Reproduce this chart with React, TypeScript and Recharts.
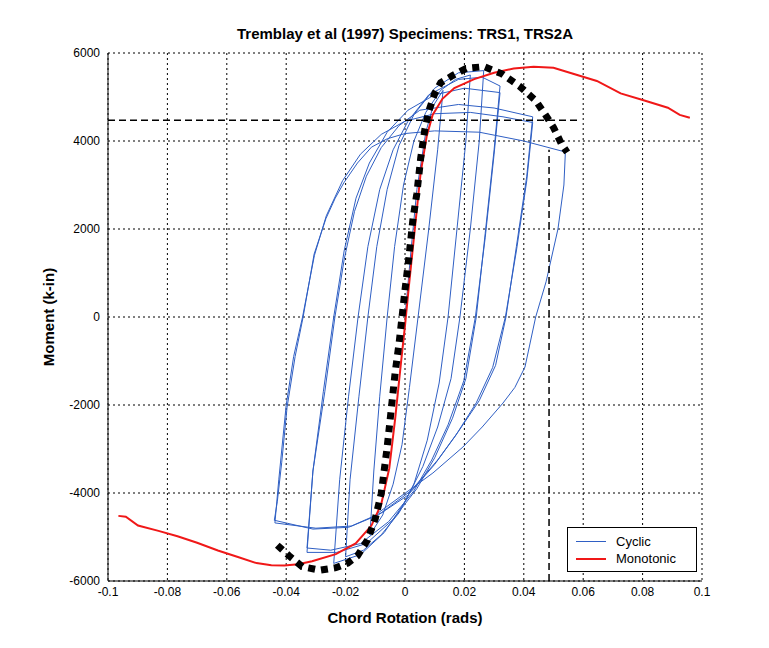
import React from 'react';
import { LineChart, Line, XAxis, YAxis, CartesianGrid } from 'recharts';

type Pt = [number, number];

const xTicks = [-0.1, -0.08, -0.06, -0.04, -0.02, 0, 0.02, 0.04, 0.06, 0.08, 0.1];
const yTicks = [-6000, -4000, -2000, 0, 2000, 4000, 6000];

// monotonic test (red)
const monotonic: Pt[] = [
  [-0.0965, -4520], [-0.094, -4540], [-0.0899, -4740], [-0.083, -4860], [-0.0766, -4984],
  [-0.07, -5130], [-0.063, -5308], [-0.056, -5460], [-0.05, -5593], [-0.045, -5640],
  [-0.0406, -5650], [-0.036, -5620], [-0.0313, -5552], [-0.0233, -5390], [-0.0166, -5146],
  [-0.0113, -4740], [-0.008, -4253], [-0.0053, -3441], [-0.0033, -2305], [-0.0013, -1006],
  [0, -195], [0.0013, 698], [0.0033, 1997], [0.0053, 3295], [0.0073, 4107], [0.0093, 4594],
  [0.0126, 4959], [0.0166, 5203], [0.0233, 5406], [0.03, 5552], [0.0366, 5649], [0.0433, 5690],
  [0.05, 5666], [0.0566, 5528], [0.0646, 5365], [0.0726, 5081], [0.0806, 4919], [0.0885, 4756],
  [0.0925, 4594], [0.0959, 4529],
];

// cyclic backbone (thick black dots)
const backbone: Pt[] = [
  [-0.043, -5187], [-0.039, -5430], [-0.0346, -5674], [-0.0286, -5755], [-0.0233, -5698],
  [-0.0193, -5593], [-0.016, -5430], [-0.0126, -5065], [-0.01, -4578], [-0.008, -4010],
  [-0.006, -2955], [-0.0047, -2143], [-0.0033, -1250], [-0.002, -600], [-0.001, 0],
  [0, 617], [0.0013, 1347], [0.0027, 2240], [0.004, 2808], [0.0053, 3620], [0.0067, 4270],
  [0.008, 4675], [0.01, 5081], [0.012, 5325], [0.016, 5487], [0.0206, 5650], [0.0266, 5690],
  [0.0326, 5528], [0.0386, 5244], [0.044, 4919], [0.0473, 4594], [0.05, 4310], [0.0526, 3945],
  [0.0546, 3742],
];

// cyclic test, in loading order
const cycle1: Pt[] = [
  [0, 0], [0.002, 1500], [0.004, 2900], [0.007, 4200], [0.0095, 4800], [0.0128, 5150],
  [0.011, 3800], [0.008, 2000], [0.0044, 0], [0.0015, -1600], [-0.001, -2900], [-0.004, -3800],
  [-0.0075, -4500], [-0.0118, -4950],
];
const cycle2: Pt[] = [
  [-0.0105, -3500], [-0.0085, -1800], [-0.006, 0], [-0.0035, 1600], [-0.0005, 3000], [0.003, 4000],
  [0.007, 4650], [0.012, 5150], [0.017, 5400], [0.022, 5500],
  [0.0205, 4000], [0.0175, 2000], [0.0145, 0], [0.0115, -1500], [0.0075, -2800], [0.003, -3800],
  [-0.002, -4450], [-0.008, -4950], [-0.014, -5300], [-0.02, -5450],
];
const cycle3: Pt[] = [
  [-0.0185, -3700], [-0.0155, -1800], [-0.0125, 0], [-0.0095, 1600], [-0.006, 2900], [-0.002, 3900],
  [0.003, 4600], [0.01, 5200], [0.018, 5550], [0.0265, 5600],
  [0.025, 4000], [0.022, 2000], [0.0185, 0], [0.0155, -1400], [0.011, -2500], [0.006, -3400],
  [0.0, -4200], [-0.007, -4900], [-0.015, -5400], [-0.024, -5600],
];
const cycle4: Pt[] = [
  [-0.022, -3700], [-0.019, -1800], [-0.0158, 0], [-0.0125, 1600], [-0.0085, 2900], [-0.004, 3800],
  [0.001, 4450], [0.008, 5050], [0.018, 5400], [0.026, 5450], [0.032, 5250],
  [0.03, 3800], [0.027, 1900], [0.024, 0], [0.0205, -1400], [0.016, -2300], [0.01, -3200],
  [0.004, -3900], [-0.004, -4600], [-0.013, -5150], [-0.023, -5350], [-0.033, -5350],
];
const cycle4b: Pt[] = [
  [-0.031, -3500], [-0.0275, -1700], [-0.024, 0], [-0.0205, 1500], [-0.0165, 2700], [-0.012, 3500],
  [-0.006, 4200], [0.001, 4700], [0.01, 5050], [0.02, 5200], [0.032, 5100],
  [0.03, 3700], [0.027, 1800], [0.0237, 0], [0.0198, -1450], [0.0145, -2450], [0.009, -3250],
  [0.003, -3950], [-0.0055, -4650], [-0.015, -5150], [-0.025, -5300], [-0.033, -5250],
];
const cycle5: Pt[] = [
  [-0.031, -3500], [-0.027, -1700], [-0.0236, 0], [-0.0205, 1300], [-0.017, 2400], [-0.013, 3200],
  [-0.008, 3850], [-0.002, 4350], [0.005, 4700], [0.018, 4830], [0.03, 4750], [0.043, 4550],
  [0.041, 3200], [0.0375, 1600], [0.034, 0], [0.0305, -1100], [0.025, -1900], [0.018, -2600],
  [0.011, -3250], [0.002, -3950], [-0.008, -4450], [-0.018, -4750], [-0.03, -4800], [-0.0438, -4680],
];
const cycle5b: Pt[] = [
  [-0.0425, -3700], [-0.04, -2000], [-0.0375, -900], [-0.0345, 0], [-0.0305, 1400], [-0.0265, 2300],
  [-0.021, 3100], [-0.015, 3700], [-0.008, 4150], [0.0, 4450], [0.01, 4620], [0.022, 4650],
  [0.033, 4550], [0.043, 4420],
  [0.041, 3100], [0.0375, 1500], [0.0338, 0], [0.0295, -1150], [0.024, -1950], [0.017, -2700],
  [0.01, -3350], [0.001, -4050], [-0.009, -4500], [-0.019, -4780], [-0.031, -4820], [-0.044, -4620],
];
const cycle6: Pt[] = [
  [-0.043, -4200], [-0.0415, -3300], [-0.0397, -2050], [-0.037, -900], [-0.0343, 0], [-0.0306, 1430],
  [-0.0266, 2240], [-0.0235, 2700], [-0.0206, 3050], [-0.016, 3500], [-0.0113, 3860], [-0.006, 4050],
  [0.0, 4170], [0.01, 4230], [0.025, 4200], [0.04, 4000], [0.054, 3750],
  [0.0535, 3000], [0.0515, 2000], [0.0475, 800], [0.044, 0], [0.0404, -1136], [0.037, -1600],
  [0.033, -1955], [0.026, -2500], [0.0195, -2955], [0.0094, -3545], [-0.0017, -4090], [-0.01, -4500],
];

// dashed guide lines
const guideH: Pt[] = [[-0.1, 4470], [0.058, 4470]];
const guideV: Pt[] = [[0.0485, -6000], [0.0485, 3800]];

const toRows = (pts: Pt[]) => pts.map(([x, m]) => ({ x, m }));
const cyclic = toRows([
  ...cycle1, ...cycle2, ...cycle3, ...cycle4, ...cycle4b, ...cycle5, ...cycle5b, ...cycle6,
]);

const FONT = '"Liberation Sans", Arial, Helvetica, sans-serif';
const BLUE = '#2f5fc4';
const RED = '#f01818';

const fmtX = (v: number) => {
  const r = Math.round(v * 100) / 100;
  return r === 0 ? '0' : String(r);
};

export default function App() {
  return (
    <div style={{ position: 'relative', width: 761, height: 632, fontFamily: FONT, background: '#fff' }}>
      <LineChart width={761} height={632} margin={{ top: 45, right: 67, bottom: 29, left: 40 }}>
        <CartesianGrid stroke="#000" strokeDasharray="2 3" strokeWidth={1} />
        <XAxis
          dataKey="x"
          type="number"
          domain={[-0.1, 0.1]}
          ticks={xTicks}
          tickFormatter={fmtX}
          allowDataOverflow
          height={30}
          tickLine={false}
          tickSize={4}
          tickMargin={2}
          axisLine={{ stroke: '#000' }}
          tick={{ fill: '#000', fontSize: 12, fontFamily: FONT }}
        />
        <XAxis
          xAxisId="top"
          orientation="top"
          dataKey="x"
          type="number"
          domain={[-0.1, 0.1]}
          ticks={xTicks}
          height={0}
          tick={false}
          tickLine={false}
          axisLine={{ stroke: '#000' }}
        />
        <YAxis
          dataKey="m"
          type="number"
          domain={[-6000, 6000]}
          ticks={yTicks}
          allowDataOverflow
          width={60}
          tickLine={false}
          tickSize={4}
          tickMargin={4}
          axisLine={{ stroke: '#000' }}
          tick={{ fill: '#000', fontSize: 12, fontFamily: FONT }}
        />
        <YAxis
          yAxisId="right"
          orientation="right"
          type="number"
          domain={[-6000, 6000]}
          ticks={yTicks}
          width={0}
          tick={false}
          tickLine={false}
          axisLine={{ stroke: '#000' }}
        />
        <Line
          data={cyclic}
          dataKey="m"
          stroke={BLUE}
          strokeWidth={1}
          dot={false}
          isAnimationActive={false}
          name="Cyclic"
        />
        <Line
          data={toRows(monotonic)}
          dataKey="m"
          stroke={RED}
          strokeWidth={2}
          dot={false}
          isAnimationActive={false}
          name="Monotonic"
        />
        <Line
          data={toRows(backbone)}
          dataKey="m"
          stroke="#000"
          strokeWidth={7}
          strokeDasharray="7 6"
          dot={false}
          isAnimationActive={false}
          legendType="none"
        />
        <Line
          data={toRows(guideH)}
          dataKey="m"
          stroke="#000"
          strokeWidth={1.5}
          strokeDasharray="7 4"
          dot={false}
          isAnimationActive={false}
          legendType="none"
        />
        <Line
          data={toRows(guideV)}
          dataKey="m"
          stroke="#000"
          strokeWidth={1.5}
          strokeDasharray="7 4"
          dot={false}
          isAnimationActive={false}
          legendType="none"
        />
      </LineChart>

      <div style={{ position: 'absolute', left: 397, top: 25, transform: 'translate(-50%, -50%)', fontWeight: 'bold', fontSize: 15, whiteSpace: 'nowrap' }}>
        Tremblay et al (1997) Specimens: TRS1, TRS2A
      </div>
      <div style={{ position: 'absolute', left: 397, top: 609, transform: 'translate(-50%, -50%)', fontWeight: 'bold', fontSize: 15, whiteSpace: 'nowrap' }}>
        Chord Rotation (rads)
      </div>
      <div style={{ position: 'absolute', left: 40, top: 309, transform: 'translate(-50%, -50%) rotate(-90deg)', fontWeight: 'bold', fontSize: 15, whiteSpace: 'nowrap' }}>
        Moment (k-in)
      </div>

      <div style={{ position: 'absolute', left: 559, top: 519, width: 128, height: 43, border: '1px solid #000', background: '#fff', fontSize: 13, boxSizing: 'content-box' }}>
        <div style={{ display: 'flex', alignItems: 'center', height: 17, marginTop: 5 }}>
          <span style={{ display: 'inline-block', width: 30, borderTop: `1.5px solid ${BLUE}`, marginLeft: 8, marginRight: 10 }} />
          Cyclic
        </div>
        <div style={{ display: 'flex', alignItems: 'center', height: 17 }}>
          <span style={{ display: 'inline-block', width: 30, borderTop: `2px solid ${RED}`, marginLeft: 8, marginRight: 10 }} />
          Monotonic
        </div>
      </div>
    </div>
  );
}
